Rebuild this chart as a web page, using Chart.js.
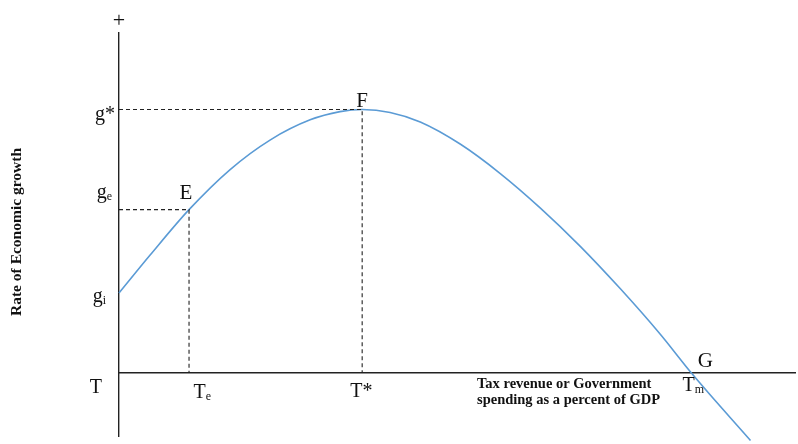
<!DOCTYPE html>
<html>
<head>
<meta charset="utf-8">
<script src="https://cdn.jsdelivr.net/npm/chart.js@4.4.1/dist/chart.umd.min.js"></script>
<style>
  html, body { margin: 0; padding: 0; background: #fff; }
  canvas { display: block; }
</style>
</head>
<body>
<canvas id="myChart" width="798" height="444"></canvas>
<script>
// curve: growth rate vs tax share
const curveX = [0, 1.28, 2.88, 4.57, 6.21, 7.86, 9.09, 10.0, 11.15, 12.39, 14.03, 15.68, 17.33, 18.97, 20.62, 22.26, 23.54, 25.97];
const curveY = [3.01, 4.44, 6.15, 7.66, 8.77, 9.53, 9.84, 9.92, 9.81, 9.45, 8.62, 7.51, 6.21, 4.77, 3.17, 1.46, 0, -2.54];

// named levels
const gStar = 9.92, gE = 6.15, gI = 3.01;
const tE = 2.88, tStar = 10.0, tM = 23.54;

const yTickValues = [gStar, gE, gI, 0];
const yTickLabels = [['g*', ''], ['g', 'e'], ['g', 'i'], ['T', '']];
const xTickValues = [tE, tStar, tM];
const xTickLabels = [['T', 'e'], ['T*', ''], ['T', 'm']];
const pointNames = ['E', 'F', 'G'];
const pointX = [tE, tStar, tM];
const pointY = [gE, gStar, 0];

const yTitle = 'Rate of Economic growth';
const xTitle = ['Tax revenue or Government', 'spending as a percent of GDP'];

const SERIF = '"Liberation Serif", "Times New Roman", serif';

function drawLabel(ctx, main, sub, x, y, size, align) {
    const mainFont = size + 'px ' + SERIF;
    const subFont = Math.round(size * 0.62) + 'px ' + SERIF;
    ctx.font = mainFont;
    const w1 = ctx.measureText(main).width;
    ctx.font = subFont;
    const w2 = sub ? ctx.measureText(sub).width : 0;
    let left = x;
    if (align === 'right') left = x - w1 - w2;
    if (align === 'center') left = x - (w1 + w2) / 2;
    ctx.textAlign = 'left';
    ctx.textBaseline = 'alphabetic';
    ctx.font = mainFont;
    ctx.fillText(main, left, y);
    if (sub) {
        ctx.font = subFont;
        ctx.fillText(sub, left + w1, y + size * 0.1);
    }
}

// offsets of each label from its anchor, in px
const yLabelOffsets = [[-4, 10], [-7, -12], [-13, 9], [-17, 20]];
const xLabelOffsets = [[4.5, 25], [-12, 24], [-9, 18]];
const pointLabelOffsets = [[-3, -11], [0, -3], [14, -6]];

const labelsPlugin = {
    id: 'labels',
    afterDraw(chart) {
        const ctx = chart.ctx;
        const xs = chart.scales.x;
        const ys = chart.scales.y;
        const ax = xs.getPixelForValue(0);
        const ay = ys.getPixelForValue(0);
        ctx.save();
        ctx.fillStyle = '#111';

        yTickValues.forEach((v, i) => {
            const [dx, dy] = yLabelOffsets[i];
            drawLabel(ctx, yTickLabels[i][0], yTickLabels[i][1], ax + dx, ys.getPixelForValue(v) + dy, 20, 'right');
        });
        xTickValues.forEach((v, i) => {
            const [dx, dy] = xLabelOffsets[i];
            drawLabel(ctx, xTickLabels[i][0], xTickLabels[i][1], xs.getPixelForValue(v) + dx, ay + dy, 20, 'left');
        });
        pointNames.forEach((name, i) => {
            const [dx, dy] = pointLabelOffsets[i];
            drawLabel(ctx, name, '', xs.getPixelForValue(pointX[i]) + dx, ys.getPixelForValue(pointY[i]) + dy, 21, 'center');
        });

        // "+" at the top of the vertical axis
        ctx.font = '22px ' + SERIF;
        ctx.textAlign = 'center';
        ctx.textBaseline = 'middle';
        ctx.fillText('+', ax, chart.chartArea.top - 12);

        // axis titles
        ctx.font = 'bold 14.5px ' + SERIF;
        ctx.textAlign = 'left';
        ctx.textBaseline = 'alphabetic';
        ctx.fillText(xTitle[0], 477, ay + 15);
        ctx.fillText(xTitle[1], 477, ay + 31);

        ctx.font = 'bold 15.5px ' + SERIF;
        ctx.translate(21, 232);
        ctx.rotate(-Math.PI / 2);
        ctx.textAlign = 'center';
        ctx.fillText(yTitle, 0, 0);
        ctx.restore();
    }
};

const dashStyle = {
    borderColor: '#222',
    borderWidth: 1.1,
    borderDash: [4, 3],
    pointRadius: 0,
    tension: 0,
    fill: false,
};

function renderChart(canvasId) {
    const ctx = document.getElementById(canvasId).getContext('2d');

    const curve = {
        data: curveX.map((x, i) => ({ x: x, y: curveY[i] })),
        borderColor: '#5b9bd5',
        borderWidth: 1.6,
        pointRadius: 0,
        cubicInterpolationMode: 'monotone',
        clip: false,
        fill: false,
    };

    const dashStar = Object.assign({
        data: [{ x: 0, y: gStar }, { x: tStar, y: gStar }, { x: tStar, y: 0 }],
    }, dashStyle);
    const dashE = Object.assign({
        data: [{ x: 0, y: gE }, { x: tE, y: gE }, { x: tE, y: 0 }],
    }, dashStyle);

    new Chart(ctx, {
        type: 'line',
        data: { datasets: [dashStar, dashE, curve] },
        options: {
            responsive: false,
            animation: false,
            devicePixelRatio: 1,
            layout: { padding: { left: 119, top: 33, right: 3, bottom: 8 } },
            plugins: { legend: { display: false }, tooltip: { enabled: false } },
            scales: {
                x: {
                    type: 'linear',
                    min: 0,
                    max: 27.8,
                    position: { y: 0 },
                    grid: { display: false },
                    border: { display: true, color: '#222', width: 1.4 },
                    ticks: { display: false },
                },
                y: {
                    type: 'linear',
                    min: -2.37,
                    max: 12.8,
                    position: { x: 0 },
                    grid: { display: false },
                    border: { display: true, color: '#222', width: 1.4 },
                    ticks: { display: false },
                },
            },
        },
        plugins: [labelsPlugin],
    });
}

renderChart('myChart');
</script>
</body>
</html>
